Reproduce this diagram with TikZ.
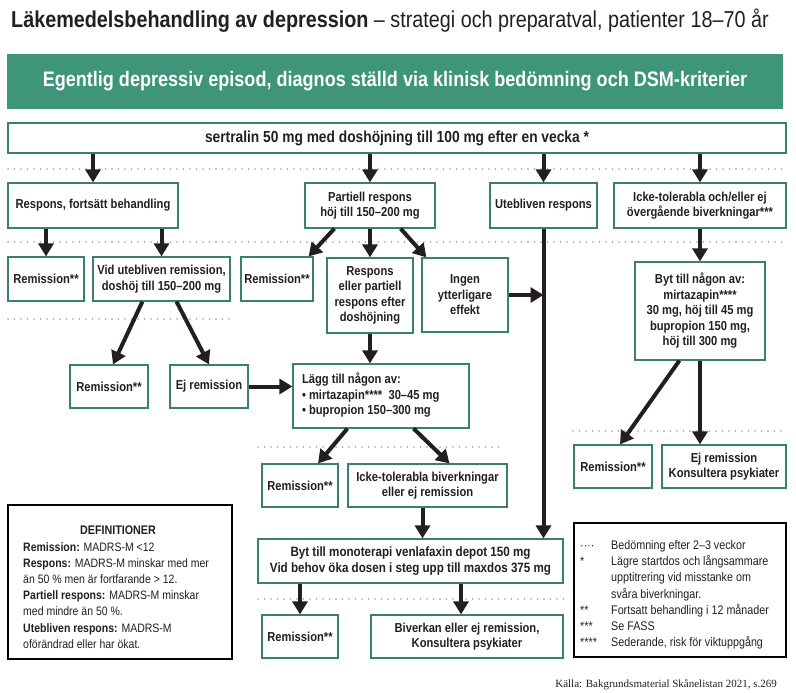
\documentclass[tikz,border=0pt]{standalone}
\usepackage{fontspec}
\setmainfont{Liberation Sans}[FakeStretch=0.86]
\newfontfamily\srcfont{Liberation Serif}
\usetikzlibrary{arrows.meta, calc}

\definecolor{bannergreen}{RGB}{62,149,122}
\definecolor{boxgreen}{RGB}{58,128,112}
\definecolor{ink}{RGB}{35,31,32}

\begin{document}
\begin{tikzpicture}[x=1pt, y=-1pt,
        every node/.style={inner sep=0pt, text=ink},
        box/.style={draw=boxgreen, line width=1.2pt, align=center, font=\fontsize{13}{15.5}\selectfont\bfseries},
        arr/.style={draw=ink, line width=4pt, -{Triangle[width=15pt, length=13pt]}},
        dots/.style={gray!75, line width=1.6pt, line cap=round, dash pattern=on 0pt off 6.5pt},
        legbox/.style={draw=black, line width=1.2pt}]

        \useasboundingbox[fill=white] (0,0) rectangle (796,693);

        % Header
        \node[anchor=west, font=\fontsize{23}{26}\selectfont] (title) at (11,21) {\textbf{Läkemedelsbehandling av depression} – strategi och preparatval, patienter 18–70 år};
        \node[fill=bannergreen, text=white, minimum width=776pt, minimum height=55pt, font=\fontsize{21}{24}\selectfont\bfseries] (diag) at (395,81.5) {Egentlig depressiv episod, diagnos ställd via klinisk bedömning och DSM-kriterier};

        \node[box, minimum width=778pt, minimum height=30pt, font=\fontsize{16}{18}\selectfont\bfseries] (sert) at (397,138) {sertralin 50 mg med doshöjning till 100 mg efter en vecka *};

        % First assessment
        \node[box, minimum width=170pt, minimum height=45pt] (resp) at (93,205.5) {Respons, fortsätt behandling};
        \node[box, minimum width=130pt, minimum height=45pt] (part) at (370,205.5) {Partiell respons\\höj till 150–200 mg};
        \node[box, minimum width=107pt, minimum height=45pt] (uteb) at (543.5,205.5) {Utebliven respons};
        \node[box, minimum width=172pt, minimum height=45pt] (icke) at (700,205.5) {Icke-tolerabla och/eller ej\\övergående biverkningar***};

        % Second assessment
        \node[box, minimum width=76pt, minimum height=44pt] (rem1) at (46,279) {Remission**};
        \node[box, minimum width=137pt, minimum height=44pt] (vid) at (161.5,279) {Vid utebliven remission,\\doshöj till 150–200 mg};
        \node[box, minimum width=72pt, minimum height=44pt] (rem2) at (277,279) {Remission**};
        \node[box, minimum width=86pt, minimum height=75pt] (respart) at (370,295.5) {Respons\\eller partiell\\respons efter\\doshöjning};
        \node[box, minimum width=86pt, minimum height=74pt] (ingen) at (465,295) {Ingen\\ytterligare\\effekt};
        \node[box, minimum width=130pt, minimum height=98pt] (byt) at (700,311) {Byt till någon av:\\mirtazapin****\\30 mg, höj till 45 mg\\bupropion 150 mg,\\höj till 300 mg};

        % Third assessment
        \node[box, minimum width=78pt, minimum height=43pt] (rem3) at (109,386.5) {Remission**};
        \node[box, minimum width=78pt, minimum height=43pt] (ejrem) at (209,386.5) {Ej remission};
        \node[box, inner xsep=9pt, minimum height=64pt] (lagg) at (381,396) {\makebox[158pt][l]{\begin{tabular}{@{}l@{}}Lägg till någon av:\\• mirtazapin****\ \ 30–45 mg\\• bupropion 150–300 mg\end{tabular}}};
        \node[box, minimum width=78pt, minimum height=43pt] (rem6) at (613,466.5) {Remission**};
        \node[box, minimum width=124pt, minimum height=43pt] (ejkons) at (724,466.5) {Ej remission\\Konsultera psykiater};

        \node[box, minimum width=76pt, minimum height=43pt] (rem4) at (300,485.5) {Remission**};
        \node[box, minimum width=159pt, minimum height=43pt] (icktol) at (427.5,485.5) {Icke-tolerabla biverkningar\\eller ej remission};

        % Switch
        \node[box, minimum width=305pt, minimum height=44pt, font=\fontsize{13.5}{16}\selectfont\bfseries] (mono) at (410.5,561) {Byt till monoterapi venlafaxin depot 150 mg\\Vid behov öka dosen i steg upp till maxdos 375 mg};
        \node[box, minimum width=76pt, minimum height=43pt] (rem5) at (300,636.5) {Remission**};
        \node[box, minimum width=192pt, minimum height=43pt] (biv) at (467,636.5) {Biverkan eller ej remission,\\Konsultera psykiater};

        % Assessment lines
        \draw[dots] (8,169) -- (786,169);
        \draw[dots] (8,242) -- (786,242);
        \draw[dots] (8,319) -- (230,319);
        \draw[dots] (258,447) -- (505,447);
        \draw[dots] (573,431) -- (785,431);
        \draw[dots] (258,599) -- (570,599);

        % Arrows
        \draw[arr] (sert.south -| resp.north) -- (resp.north);
        \draw[arr] (sert.south -| part.north) -- (part.north);
        \draw[arr] (sert.south -| uteb.north) -- (uteb.north);
        \draw[arr] (sert.south -| icke.north) -- (icke.north);

        \draw[arr] (resp.south -| rem1.north) -- (rem1.north);
        \draw[arr] (resp.south -| vid.north) -- (vid.north);
        \draw[arr] ([xshift=30pt]part.south west) -- ([xshift=-5pt]rem2.north east);
        \draw[arr] (part.south) -- (respart.north);
        \draw[arr] ([xshift=-35pt]part.south east) -- ([xshift=5pt]ingen.north west);
        \draw[arr] (ingen.east) -- (ingen.east -| uteb.south);
        \draw[arr] (uteb.south) -- (uteb.south |- mono.north);
        \draw[arr] (icke.south) -- (byt.north);

        \draw[arr] ([xshift=50pt]vid.south west) -- ([xshift=4pt]rem3.north);
        \draw[arr] ([xshift=15pt]vid.south) -- (ejrem.north);
        \draw[arr] (ejrem.east) -- (ejrem.east -| lagg.west);
        \draw[arr] (respart.south) -- (respart.south |- lagg.north);
        \draw[arr] ([xshift=55pt]lagg.south west) -- ([xshift=18pt]rem4.north);
        \draw[arr] ([xshift=-56pt]lagg.south east) -- ([xshift=22pt]icktol.north);
        \draw[arr] ([xshift=-5pt]icktol.south) -- ([xshift=-5pt]icktol.south |- mono.north);

        \draw[arr] ([xshift=45pt]byt.south west) -- ([xshift=7pt]rem6.north);
        \draw[arr] (byt.south) -- (byt.south |- ejkons.north);

        \draw[arr] (mono.south -| rem5.north) -- (rem5.north);
        \draw[arr] ([xshift=-6pt]mono.south -| biv.north) -- ([xshift=-6pt]biv.north);

        % Definitions
        \node[legbox, minimum width=224pt, minimum height=154pt] (defs) at (120,582) {};
        \node[font=\fontsize{12.5}{15}\selectfont\bfseries] (deftitle) at (118,530) {DEFINITIONER};
        \node[anchor=north west, align=left, font=\fontsize{12.2}{16.2}\selectfont] (deftext) at (23,542) {\textbf{Remission:} MADRS-M <12\\\textbf{Respons:} MADRS-M minskar med mer\\än 50 \% men är fortfarande > 12.\\\textbf{Partiell respons:} MADRS-M minskar\\med mindre än 50 \%.\\\textbf{Utebliven respons:} MADRS-M\\oförändrad eller har ökat.};

        % Legend
        \node[legbox, minimum width=212pt, minimum height=134pt] (legend) at (680,590) {};
        \node[anchor=north west, font=\fontsize{12.5}{16.2}\selectfont] (legtext) at (580,538) {\begin{tabular}{@{}p{31pt}@{}l@{}}
            {····} & Bedömning efter 2–3 veckor\\
            {*} & Lägre startdos och långsammare\\
              & upptitrering vid misstanke om\\
              & svåra biverkningar.\\
            {**} & Fortsatt behandling i 12 månader\\
            {***} & Se FASS\\
            {****} & Sederande, risk för viktuppgång
        \end{tabular}};

        \node[anchor=east, font={\srcfont\fontsize{11}{13}\selectfont}] (src) at (777,685) {Källa: Bakgrundsmaterial Skånelistan 2021, s.269};
\end{tikzpicture}
\end{document}
